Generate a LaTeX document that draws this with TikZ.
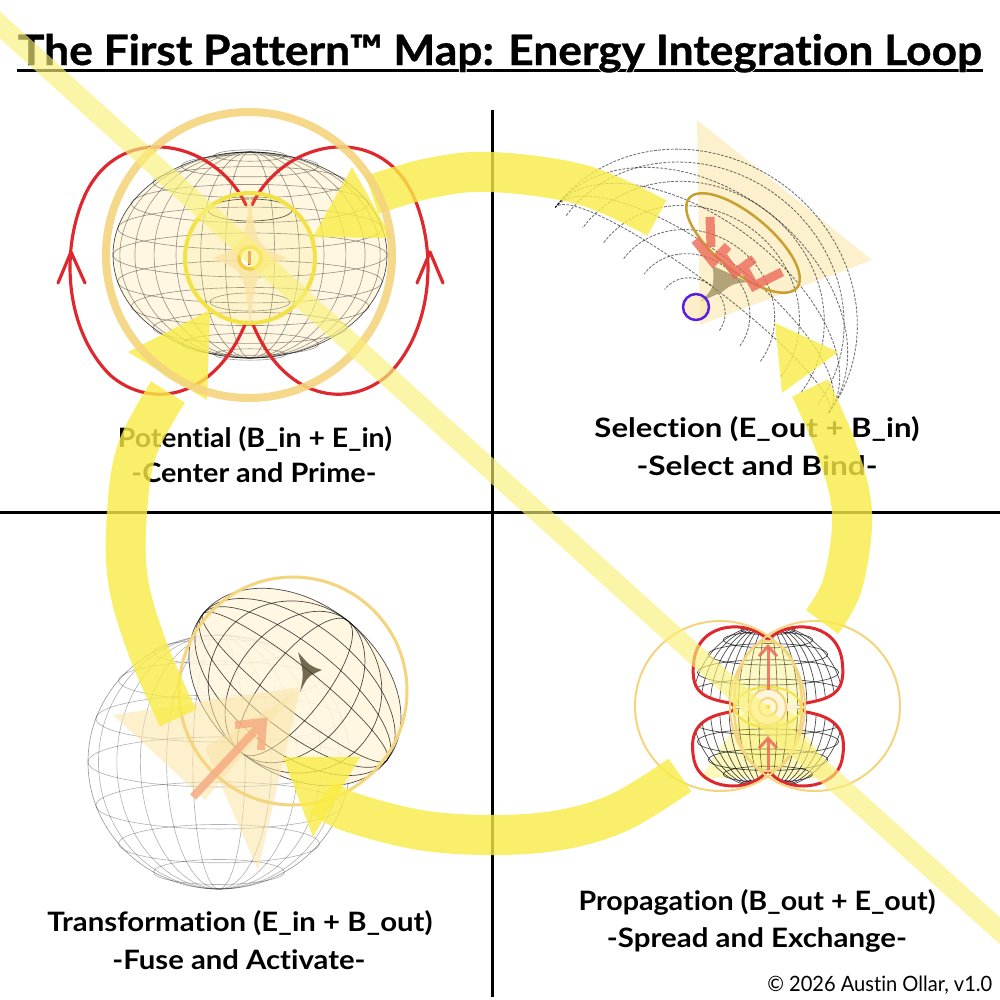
\documentclass[tikz,border=0pt]{standalone}
\usepackage{fontspec}
\setmainfont{Lato}[Ligatures={NoCommon}]
\newfontfamily\titlefont{Lato}[Ligatures={NoCommon}, BoldFeatures={FakeBold=0.8}]
\newfontfamily\titlehalo{Lato}[Ligatures={NoCommon}, BoldFeatures={FakeBold=5}]
\usetikzlibrary{arrows.meta}
\newlength\px
\setlength\px{0.01cm}
\definecolor{loopy}{RGB}{249,236,70}
\definecolor{diagy}{RGB}{249,240,120}
\definecolor{goldring}{RGB}{244,212,125}
\definecolor{redf}{RGB}{222,40,45}
\definecolor{cream}{RGB}{255,246,220}
\definecolor{palecone}{RGB}{250,228,165}
\definecolor{salmon}{RGB}{236,105,90}
\definecolor{salmonlt}{RGB}{245,172,130}
\definecolor{darkgold}{RGB}{200,160,45}
\definecolor{purp}{RGB}{90,30,225}
\definecolor{innery}{RGB}{242,226,70}
\definecolor{vortex}{RGB}{70,60,35}
\newcommand\mylbl[2]{\resizebox{#1\px}{\height}{\fontsize{7.6pt}{9pt}\selectfont #2}}
\newcommand\mytitle{The First Pattern™ Map: Energy Integration Loop}
\tikzset{
  wire/.style={draw=black, draw opacity=0.4, line width=0.18pt},
  wiredark/.style={draw=black, draw opacity=0.7, line width=0.2pt},
  dotwire/.style={draw=black, draw opacity=0.55, line width=0.25pt, dash pattern=on 0.8pt off 0.4pt},
  loopband/.style={draw=loopy, line width=0.4cm, draw opacity=0.8, line cap=butt},
  looptip/.style={fill=loopy, fill opacity=0.8},
  redline/.style={draw=redf, line width=0.9pt, line cap=round, line join=round},
  lblfont/.style={anchor=base, inner sep=0pt, font=\bfseries},
}
\begin{document}
\begin{tikzpicture}[x=0.01cm, y=-0.01cm]
\useasboundingbox (0,0) rectangle (1000,1000);
\fill[white] (0,0) rectangle (1000,1000);

% quadrant axes
\draw[line width=0.03cm] (492,110) -- (492,997);
\draw[line width=0.03cm] (0,512) -- (1000,512);

% ================= Q1 Potential =================
\fill[cream, fill opacity=0.85] (250,255) ellipse [x radius=137, y radius=103];
\foreach \s in {0.18,0.36,0.54,0.7,0.84,0.95}
  \draw[wire] (250,255) ellipse [x radius={137*\s}, y radius=103];
\foreach \a in {-75,-60,-45,-30,-15,0,15,30,45,60,75}
  \draw[wire] (250,{255+103*sin(\a)}) ellipse [x radius={137*cos(\a)}, y radius={22*cos(\a)}];
\draw[wiredark] (250,255) ellipse [x radius=137, y radius=103];
\draw[wiredark] (250,210) ellipse [x radius=42, y radius=11];
\draw[wire] (250,302) ellipse [x radius=40, y radius=9];
% red field lines
\draw[redline] (246,205) .. controls (215,140) and (120,120) .. (85,195)
  .. controls (60,250) and (65,330) .. (110,375)
  .. controls (150,410) and (215,400) .. (246,322);
\draw[redline] (252,205) .. controls (283,140) and (378,120) .. (413,195)
  .. controls (438,250) and (433,330) .. (388,375)
  .. controls (348,410) and (283,400) .. (252,322);
\draw[redline] (58,283) -- (71,252) -- (85,283);
\draw[redline] (417,283) -- (430,252) -- (443,283);
% rings
\filldraw[draw=innery, line width=0.04cm, fill=innery, fill opacity=0.12] (250,258) circle [radius=65];
\fill[palecone, fill opacity=0.85] (250,192) .. controls (256,245) .. (287,258)
  .. controls (256,271) .. (250,325) .. controls (244,271) .. (213,258)
  .. controls (244,245) .. cycle;
\filldraw[draw=innery!80!orange, line width=0.035cm, fill=white] (250,258) circle [radius=11];
\draw[redf, line width=0.03cm] (249,251) -- (249,265);

% ================= Q2 Selection =================
\fill[palecone, fill opacity=0.55] (697,120) -- (872,260) -- (700,325) -- cycle;
\foreach \s in {1,0.8,0.6,0.4,0.2}
  \draw[dotwire] plot[domain=0:180, samples=40]
    ({692+136.8*cos(\x)+93*\s*sin(\x)},{310+102.6*cos(\x)-124*\s*sin(\x)});
\foreach \k in {0.2,0.35,0.5,0.65,0.8,0.92}
  \draw[dotwire] plot[domain=0:180, samples=40]
    ({692+136.8*\k*cos(\x)+93*\k*sin(\x)},{310+102.6*\k*cos(\x)-124*\k*sin(\x)});
\draw[darkgold, line width=0.025cm] plot[domain=0:360, samples=60, smooth cycle]
  ({743+53.9*cos(\x)-17.9*sin(\x)},{243+44.8*cos(\x)+21.6*sin(\x)});
\fill[vortex!50!palecone, fill opacity=0.8] (713,266) .. controls (714,288) .. (700,302)
  -- (722,292) .. controls (732,284) .. (748,282) -- cycle;
\draw[salmon, draw opacity=0.8, line width=0.09cm, line join=miter]
  (710,217) -- (711,247)
  (695,240) -- (713,262) -- (728,246)
  (720,252) -- (735,273) -- (754,259)
  (742,264) -- (754,286) -- (782,272);
\filldraw[draw=purp, line width=0.025cm, fill=palecone, fill opacity=0.6] (696,307) circle [radius=13];

% ================= Q3 Transformation =================
\foreach \s in {0.2,0.4,0.6,0.78,0.92}
  \draw[wire, draw opacity=0.3] (219,762) ellipse [x radius={131*\s}, y radius=127];
\foreach \a in {-60,-40,-20,0,20,40,60}
  \draw[wire, draw opacity=0.3] (219,{762+127*sin(\a)}) ellipse [x radius={131*cos(\a)}, y radius={25*cos(\a)}];
\draw[wire] (219,762) ellipse [x radius=131, y radius=127];
\fill[cream, fill opacity=0.85] plot[domain=0:360, samples=60, smooth cycle]
  ({295+92*cos(\x)-52.7*sin(\x)},{687+73.2*cos(\x)+66.3*sin(\x)});
\foreach \k in {0.25,0.5,0.75,1}
  \draw[wiredark] plot[domain=0:360, samples=50, smooth cycle]
    ({295+92*\k*cos(\x)-52.7*sin(\x)},{687+73.2*\k*cos(\x)+66.3*sin(\x)});
\foreach \m in {0.25,0.5,0.75}
  \draw[wiredark] plot[domain=0:360, samples=50, smooth cycle]
    ({295+92*cos(\x)-52.7*\m*sin(\x)},{687+73.2*cos(\x)+66.3*\m*sin(\x)});
\fill[vortex, fill opacity=0.75] (298,652) .. controls (310,666) .. (322,670)
  .. controls (308,676) .. (300,692) .. controls (304,674) .. cycle;
\fill[palecone, fill opacity=0.55] (113,715) -- (300,687) -- (205,800) -- cycle;
\fill[palecone, fill opacity=0.55] (205,748) -- (300,690) -- (258,870) -- cycle;
\draw[goldring, line width=0.03cm] (293,691) circle [radius=114];
\draw[salmonlt, draw opacity=0.85, line width=0.08cm, line join=miter]
  (193,797) -- (263,722) (261,750) -- (263,722) -- (235,725);

% ================= Q4 Propagation =================
\fill[loopy, fill opacity=0.35] (700,778) -- (745,712) -- (791,712) -- (836,778) -- cycle;
\begin{scope}
\clip (768,640) .. controls (750,620) and (700,620) .. (694,660)
  .. controls (690,690) and (700,698) .. (730,703)
  .. controls (736,705) and (736,710) .. (730,712)
  .. controls (700,717) and (688,730) .. (694,760)
  .. controls (700,790) and (750,795) .. (768,770)
  .. controls (786,795) and (836,790) .. (842,760)
  .. controls (848,730) and (836,717) .. (806,712)
  .. controls (800,710) and (800,705) .. (806,703)
  .. controls (836,698) and (846,690) .. (842,660)
  .. controls (836,620) and (786,620) .. (768,640) -- cycle;
\foreach \s in {0.12,0.25,0.38,0.5,0.62,0.74,0.86,0.97}
  \draw[wiredark] (768,707) ellipse [x radius={78*\s}, y radius=82];
\foreach \a in {-70,-55,-40,-25,-10,10,25,40,55,70}
  \draw[wiredark] (768,{707+82*sin(\a)}) ellipse [x radius={78*cos(\a)}, y radius={14*cos(\a)}];
\end{scope}
\draw[redf, line width=0.03cm, line join=round]
  (768,640) .. controls (750,620) and (700,620) .. (694,660)
  .. controls (690,690) and (700,698) .. (730,703)
  .. controls (736,705) and (736,710) .. (730,712)
  .. controls (700,717) and (688,730) .. (694,760)
  .. controls (700,790) and (750,795) .. (768,770)
  .. controls (786,795) and (836,790) .. (842,760)
  .. controls (848,730) and (836,717) .. (806,712)
  .. controls (800,710) and (800,705) .. (806,703)
  .. controls (836,698) and (846,690) .. (842,660)
  .. controls (836,620) and (786,620) .. (768,640) -- cycle;
\draw[goldring, line width=0.02cm] (720,706) circle [radius=85];
\draw[goldring, line width=0.02cm] (815,706) circle [radius=85];
\filldraw[draw=goldring, line width=0.025cm, fill=loopy, fill opacity=0.3] (768,706) ellipse [x radius=34, y radius=65];
\fill[cream, fill opacity=0.9] (732,707) .. controls (760,701) .. (768,688)
  .. controls (776,701) .. (806,707) .. controls (776,713) .. (768,726)
  .. controls (760,713) .. cycle;
\draw[innery, line width=0.02cm] (768,707) ellipse [x radius=33, y radius=20];
\filldraw[draw=goldring, line width=0.02cm, fill=cream] (768,707) circle [radius=18];
\draw[goldring, line width=0.02cm] (768,707) circle [radius=9];
\fill[innery] (768,707) circle [radius=2.5];
\draw[salmon, draw opacity=0.85, line width=0.03cm, -{Straight Barb[length=1mm,width=1.8mm]}] (768,690) -- (768,644);
\draw[salmon, draw opacity=0.85, line width=0.03cm, -{Straight Barb[length=1mm,width=1.8mm]}] (768,770) -- (768,736);

% ================= labels =================
\draw[line width=0.03cm] (17,70) -- (983,70);
\node[anchor=base, inner sep=0pt, text=white, font=\titlehalo\bfseries] (titlehalo) at (500,65)
  {\resizebox{964\px}{\height}{\fontsize{11.9pt}{14pt}\selectfont \mytitle}};
\node[anchor=base, inner sep=0pt, font=\titlefont\bfseries] (title) at (500,65)
  {\resizebox{964\px}{\height}{\fontsize{11.9pt}{14pt}\selectfont \mytitle}};
\node[lblfont] (potA) at (255,447) {\mylbl{274}{Potential (B\_in + E\_in)}};
\node[lblfont] (potB) at (254,482) {\mylbl{245}{-Center and Prime-}};
\node[lblfont] (selA) at (757,437) {\mylbl{325}{Selection (E\_out + B\_in)}};
\node[lblfont] (selB) at (757,475) {\mylbl{241}{-Select and Bind-}};
\node[lblfont] (traA) at (240,931) {\mylbl{385}{Transformation (E\_in + B\_out)}};
\node[lblfont] (traB) at (239,969) {\mylbl{253}{-Fuse and Activate-}};
\node[lblfont] (proA) at (757,910) {\mylbl{357}{Propagation (B\_out + E\_out)}};
\node[lblfont] (proB) at (757,947) {\mylbl{300}{-Spread and Exchange-}};
\node[anchor=base east, inner sep=0pt] (copy) at (993,991)
  {\resizebox{225\px}{\height}{\fontsize{6pt}{7pt}\selectfont © 2026 Austin Ollar, v1.0}};

% ================= loop =================
\draw[loopband] plot[smooth, tension=0.6] coordinates {(372,195) (430,178) (492,172) (583,185) (657,218)};
\draw[loopband] plot[smooth, tension=0.6] coordinates {(810,388) (837,450) (852,513) (843,583) (822,622)};
\draw[loopband] plot[smooth, tension=0.6] coordinates {(680,775) (620,812) (560,830) (492,835) (420,830) (350,812) (322,797)};
\draw[loopband] plot[smooth, tension=0.6] coordinates {(178,718) (147,647) (128,580) (127,513) (137,450) (168,392)};
\fill[looptip] (352,167) -- (313,237) -- (392,238) -- cycle;
\fill[looptip] (775,323) -- (838,352) -- (782,393) -- cycle;
\fill[looptip] (283,757) -- (360,757) -- (313,837) -- cycle;
\fill[looptip] (128,352) -- (210,310) -- (207,400) -- cycle;

% gold ring of Potential lies over the loop
\draw[goldring, line width=0.08cm, draw opacity=0.9] (249,255) circle [radius=143];

% ================= diagonal band =================
\draw[diagy, line width=0.2cm, draw opacity=0.65, line cap=butt] (-10,16) -- (1010,940);
\end{tikzpicture}
\end{document}
